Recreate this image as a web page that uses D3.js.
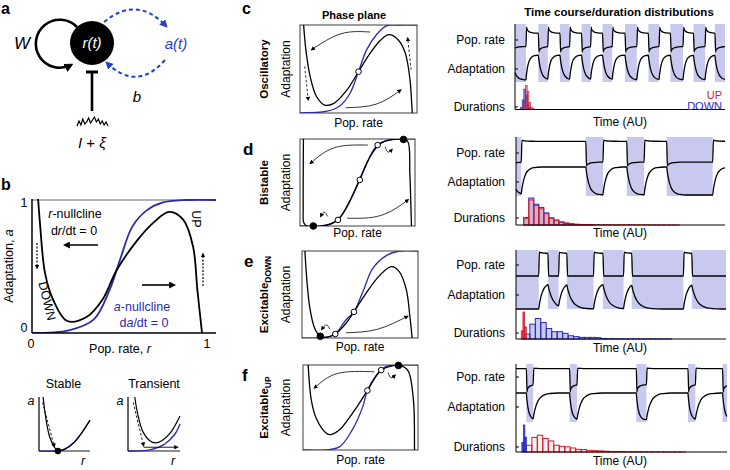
<!DOCTYPE html>
<html><head><meta charset="utf-8">
<script src="https://cdn.jsdelivr.net/npm/d3@7"></script>
<style>body{margin:0;background:#fff} text{font-family:"Liberation Sans",Arial,Helvetica,sans-serif}</style>
</head><body><svg id="chart" width="730" height="470"></svg>
<script>
// ---------------- DATA ----------------
// Panel a: noise trace under the input line (relative y offsets)
const noiseOffsets = [2,-3,1,-5,0,-2,-6,-1,-4,-7,-2,-5,0,-3,1,-2,2];

// Panel b: nullclines, r (pop. rate) and a (adaptation) in [0,1]
const bRNullcline = [[0.034,1.02],[0.045,0.83],[0.074,0.45],[0.12,0.25],[0.2,0.09],[0.31,0.12],[0.40,0.25],[0.48,0.47],[0.6,0.7],[0.69,0.83],[0.78,0.91],[0.86,0.85],[0.915,0.65],[0.94,0.32],[0.966,0.0],[0.97,-0.05]];
const bANullcline = [[0,0],[0.21,0.02],[0.35,0.1],[0.44,0.32],[0.5,0.55],[0.57,0.8],[0.65,0.92],[0.74,0.98],[0.88,1.0],[1.05,1.0]];
const stableRNull = [[0.08,1],[0.14,0.57],[0.21,0.26],[0.31,0.06],[0.37,0],[0.5,0.03],[0.7,0.17],[1,0.57]];
const stableANull = [[0,0],[0.31,0],[0.5,0.035],[0.7,0.17],[1,0.57]];
const transientRNull = [[0.13,1],[0.19,0.67],[0.29,0.35],[0.42,0.19],[0.52,0.15],[0.65,0.19],[0.81,0.33],[1,0.65]];
const transientANull = [[0,0],[0.42,0.02],[0.71,0.13],[0.9,0.31],[1,0.5]];

// Phase planes c-f
const cRNull = [[0.03,1.02],[0.05,0.72],[0.086,0.42],[0.14,0.19],[0.21,0.09],[0.29,0.11],[0.4,0.26],[0.5,0.47],[0.6,0.68],[0.69,0.83],[0.76,0.89],[0.84,0.83],[0.9,0.68],[0.94,0.38],[0.96,0.0],[0.965,-0.05]];
const cANull = [[0,0],[0.23,0.02],[0.34,0.08],[0.43,0.23],[0.5,0.47],[0.57,0.72],[0.66,0.9],[0.74,0.99],[0.85,1],[1,1]];
const dRNull = [[0.03,1.05],[0.028,0.6],[0.028,0.2],[0.032,0.04],[0.06,0.0],[0.2,0.0],[0.3,0.045],[0.36,0.12],[0.43,0.28],[0.51,0.51],[0.58,0.72],[0.64,0.86],[0.7,0.95],[0.78,0.99],[0.88,0.995],[0.935,0.975],[0.955,0.6],[0.965,0.2],[0.97,-0.05]];
const dANull = [[0,0],[0.15,0.0],[0.25,0.02],[0.33,0.07],[0.4,0.2],[0.52,0.53],[0.62,0.83],[0.675,0.93],[0.75,0.98],[0.85,1],[1,1]];
const eRNull = [[0.023,1.05],[0.04,0.7],[0.066,0.36],[0.11,0.11],[0.158,0.02],[0.22,0.01],[0.28,0.04],[0.38,0.17],[0.448,0.3],[0.55,0.51],[0.67,0.72],[0.77,0.82],[0.84,0.76],[0.9,0.55],[0.93,0.25],[0.95,0.0],[0.955,-0.05]];
const eANull = [[0,0],[0.15,0.0],[0.24,0.02],[0.287,0.046],[0.38,0.21],[0.448,0.3],[0.53,0.55],[0.61,0.8],[0.73,0.95],[0.84,1],[1,1]];
const fRNull = [[0.043,1.05],[0.072,0.59],[0.116,0.37],[0.2,0.2],[0.24,0.18],[0.32,0.24],[0.46,0.49],[0.56,0.7],[0.68,0.94],[0.83,0.995],[0.91,0.94],[0.96,0.59],[0.97,0.0],[0.972,-0.05]];
const fANull = [[0,0],[0.2,0],[0.32,0.04],[0.43,0.24],[0.52,0.51],[0.56,0.7],[0.64,0.88],[0.72,0.98],[0.84,1],[1,1]];
// fixed points: [r, a, stable?]
const cFixed = [[0.5,0.47,0]];
const dFixed = [[0.116,0.0,1],[0.33,0.07,0],[0.52,0.53,0],[0.675,0.93,0],[0.9,0.995,1]];
const eFixed = [[0.158,0.02,1],[0.287,0.046,0],[0.448,0.3,0]];
const fFixed = [[0.56,0.70,0],[0.68,0.94,0],[0.83,0.995,1]];

// Time courses: state transition times (time in AU, 0-100) and starting state
const cTransitions = [5.2,11.1,15.6,21.4,26,31.7,36,41.7,46.3,52.4,58,63.5,68.6,74,80,85,90.5,95.2];
const dTransitions = [2.5,33.4,41.6,53,61.3,72.1,94.1];
const eTransitions = [10.8,15.2,20.3,24.2,36.9,41.4,51.2,55.1,79.7,83.7];
const fTransitions = [4.9,8.1,25.4,28.9,57,61.8,81.5,85,97.9];
const startStates = {c:"DOWN", d:"DOWN", e:"DOWN", f:"UP"};

// Duration histograms (normalized counts)
const cUpCounts = [0.1,0.35,1.0,0.75,0.3,0.1,0.04];
const cDownCounts = [0.08,0.4,0.85,0.6,0.2,0.05];
const dUpCounts = [0.25,0.93,0.72,0.6,0.42,0.25,0.18,0.12,0.08,0.05,0.03,0.02,0.02,0.015,0.01,0.01,0.01,0.01,0.008,0.008,0.006,0.006,0.005,0.005,0.004,0.004,0.003,0.003,0.003,0.002,0.002];
const dDownCounts = [0.28,1.0,0.77,0.65,0.45,0.27,0.18,0.1,0.06,0.04,0.02,0.01,0.008,0.005];
const eUpCounts = [0.3,1.0,0.45];
const eDownCounts = [0.18,0.55,0.76,0.61,0.39,0.27,0.27,0.21,0.12,0.09,0.06,0.06,0.06,0.05,0.02,0.01,0.01,0.008,0.006,0.005,0.004,0.003,0.003,0.002,0.002,0.002,0.002];
const fDownCounts = [0.35,1.0,0.55];
const fUpCounts = [0.25,0.54,0.62,0.5,0.41,0.25,0.21,0.19,0.15,0.1,0.09,0.06,0.05,0.04,0.03,0.02,0.02,0.02,0.01,0.01,0.008,0.006,0.005,0.005,0.004,0.003,0.003,0.002,0.002];

// Relaxation shape of adaptation (time in units of tau, fraction of change)
const relaxT = [0,0.15,0.3,0.5,0.75,1,1.5,2,3,4,6];
const relaxV = [0,0.14,0.26,0.39,0.53,0.63,0.78,0.86,0.95,0.98,1.0];

// ---------------- DRAWING ----------------
const BLUE = "#2b2ba8", RED = "#d0202e", HBLUE = "#2a2ac4", SHADE = "#c9c9f0";
const svg = d3.select("#chart");
svg.append("rect").attr("width",730).attr("height",470).attr("fill","#fff");
const defs = svg.append("defs");
function marker(id, color, size){
  defs.append("marker").attr("id",id).attr("viewBox","0 0 10 10").attr("refX",7).attr("refY",5)
    .attr("markerWidth",size).attr("markerHeight",size).attr("markerUnits","userSpaceOnUse").attr("orient","auto")
    .append("path").attr("d","M0,0 L10,5 L0,10 z").attr("fill",color);
}
marker("ahS","#000",4.5); marker("ahM","#000",7); marker("ahL","#000",9); marker("ahB","#2340c8",8);

function txt(g,x,y,s,o={}){
  const t=g.append("text").attr("x",x).attr("y",y).text(s)
    .attr("font-size",o.size||12).attr("text-anchor",o.anchor||"middle").attr("fill",o.fill||"#000");
  if(o.bold) t.attr("font-weight","bold");
  if(o.italic) t.attr("font-style","italic");
  if(o.rot!==undefined) t.attr("transform",`rotate(${o.rot},${x},${y})`);
  return t;
}
const cr = d3.curveCatmullRom.alpha(0.5);

// ---- Panel a ----
const ga = svg.append("g");
txt(ga,1,14,"a",{size:16,bold:true,anchor:"start"});
ga.append("path").attr("d","M 77 27 A 24 24 0 1 0 71 65").attr("fill","none").attr("stroke","#000").attr("stroke-width",2.6).attr("marker-end","url(#ahL)");
ga.append("circle").attr("cx",92).attr("cy",43).attr("r",22).attr("fill","#000");
txt(ga,92,48,"r(t)",{size:15,italic:true,fill:"#fff"});
ga.append("path").attr("d","M 104 22 Q 137 -5 166 26").attr("fill","none").attr("stroke","#2340c8").attr("stroke-width",2).attr("stroke-dasharray","4,3").attr("marker-end","url(#ahB)");
ga.append("path").attr("d","M 165 60 Q 137 92 107 63").attr("fill","none").attr("stroke","#2340c8").attr("stroke-width",2).attr("stroke-dasharray","4,3").attr("marker-end","url(#ahB)");
txt(ga,176,49,"a(t)",{size:15,italic:true,fill:"#2340c8"});
txt(ga,22,49,"W",{size:17,italic:true});
txt(ga,137,102,"b",{size:15,italic:true});
ga.append("line").attr("x1",92).attr("x2",92).attr("y1",72).attr("y2",111).attr("stroke","#000").attr("stroke-width",2.6);
ga.append("line").attr("x1",86).attr("x2",98).attr("y1",72).attr("y2",72).attr("stroke","#000").attr("stroke-width",3);
const nx = d3.scaleLinear().domain([0,noiseOffsets.length-1]).range([77,108]);
ga.append("path").attr("d",d3.line().x((d,i)=>nx(i)).y(d=>124+d)(noiseOffsets)).attr("fill","none").attr("stroke","#000").attr("stroke-width",1.2);
const it = ga.append("text").attr("x",92).attr("y",148).attr("text-anchor","middle").attr("font-size",15);
it.append("tspan").attr("font-style","italic").text("I");
it.append("tspan").text(" + ");
it.append("tspan").attr("font-style","italic").text("ξ");

// ---- Panel b ----
const gb = svg.append("g");
txt(gb,1,190,"b",{size:16,bold:true,anchor:"start"});
const bx = d3.scaleLinear().domain([0,1]).range([32,208]);
const by = d3.scaleLinear().domain([0,1]).range([333,200]);
defs.append("clipPath").attr("id","clipb").append("rect").attr("x",32).attr("y",199).attr("width",184).attr("height",134);
gb.append("line").attr("x1",32).attr("x2",216).attr("y1",200).attr("y2",200).attr("stroke","#999").attr("stroke-width",1.5);
const lb = d3.line().x(d=>bx(d[0])).y(d=>by(d[1])).curve(cr);
gb.append("path").attr("d",lb(bANullcline)).attr("fill","none").attr("stroke",BLUE).attr("stroke-width",1.8).attr("clip-path","url(#clipb)");
gb.append("path").attr("d",lb(bRNullcline)).attr("fill","none").attr("stroke","#000").attr("stroke-width",1.8).attr("clip-path","url(#clipb)");
gb.append("line").attr("x1",32).attr("x2",32).attr("y1",199).attr("y2",333).attr("stroke","#000").attr("stroke-width",1.5);
gb.append("line").attr("x1",32).attr("x2",216).attr("y1",333).attr("y2",333).attr("stroke","#000").attr("stroke-width",1.5);
txt(gb,24,207,"1",{size:12.5});
txt(gb,24,332,"0",{size:12.5});
txt(gb,31,348,"0",{size:12.5});
txt(gb,207,348,"1",{size:12.5});
const xl = gb.append("text").attr("x",120).attr("y",353).attr("text-anchor","middle").attr("font-size",12.5);
xl.append("tspan").text("Pop. rate, "); xl.append("tspan").attr("font-style","italic").text("r");
const yl = gb.append("text").attr("transform","translate(13,266) rotate(-90)").attr("text-anchor","middle").attr("font-size",12.5);
yl.append("tspan").text("Adaptation, "); yl.append("tspan").attr("font-style","italic").text("a");
let t1 = gb.append("text").attr("x",75).attr("y",218).attr("text-anchor","middle").attr("font-size",12.5);
t1.append("tspan").attr("font-style","italic").text("r"); t1.append("tspan").text("-nullcline");
t1 = gb.append("text").attr("x",74).attr("y",235).attr("text-anchor","middle").attr("font-size",12.5);
t1.append("tspan").text("d"); t1.append("tspan").attr("font-style","italic").text("r"); t1.append("tspan").text("/dt = 0");
t1 = gb.append("text").attr("x",142).attr("y",311).attr("text-anchor","middle").attr("font-size",12.5).attr("fill",BLUE);
t1.append("tspan").attr("font-style","italic").text("a"); t1.append("tspan").text("-nullcline");
t1 = gb.append("text").attr("x",144).attr("y",327).attr("text-anchor","middle").attr("font-size",12.5).attr("fill",BLUE);
t1.append("tspan").text("d"); t1.append("tspan").attr("font-style","italic").text("a"); t1.append("tspan").text("/dt = 0");
gb.append("line").attr("x1",98).attr("x2",65).attr("y1",245).attr("y2",245).attr("stroke","#000").attr("stroke-width",1.6).attr("marker-end","url(#ahM)");
gb.append("line").attr("x1",142).attr("x2",174).attr("y1",285).attr("y2",285).attr("stroke","#000").attr("stroke-width",1.6).attr("marker-end","url(#ahM)");
gb.append("line").attr("x1",37).attr("x2",37).attr("y1",243).attr("y2",268).attr("stroke","#000").attr("stroke-width",1.2).attr("stroke-dasharray","2,1.5").attr("marker-end","url(#ahS)");
gb.append("line").attr("x1",203).attr("x2",203).attr("y1",286).attr("y2",254).attr("stroke","#000").attr("stroke-width",1.2).attr("stroke-dasharray","2,1.5").attr("marker-end","url(#ahS)");
txt(gb,192,219,"UP",{size:12.5,rot:90});
txt(gb,43,302,"DOWN",{size:12.5,rot:76});

// small Stable / Transient insets
function inset(x0,x1,yTop,yBot,rN,aN,title,extra){
  const g = svg.append("g");
  const sx = d3.scaleLinear().domain([0,1]).range([x0,x1]);
  const sy = d3.scaleLinear().domain([0,1]).range([yBot,yTop]);
  const l = d3.line().x(d=>sx(d[0])).y(d=>sy(d[1])).curve(cr);
  g.append("line").attr("x1",x0).attr("x2",x1).attr("y1",yBot).attr("y2",yBot).attr("stroke","#666").attr("stroke-width",1.3);
  g.append("path").attr("d",l(aN)).attr("fill","none").attr("stroke",BLUE).attr("stroke-width",1.4);
  g.append("path").attr("d",l(rN)).attr("fill","none").attr("stroke","#000").attr("stroke-width",1.2);
  g.append("line").attr("x1",x0).attr("x2",x0).attr("y1",yTop).attr("y2",yBot).attr("stroke","#000").attr("stroke-width",1.2);
  txt(g,(x0+x1)/2+ (title==="Stable"?-1:0),388,title,{size:12.5});
  txt(g,x0-8,405,"a",{size:12.5,italic:true});
  txt(g,x1-7,465,"r",{size:12.5,italic:true});
  extra(g,sx,sy);
}
inset(39,90,397,451,stableRNull,stableANull,"Stable",(g,sx,sy)=>{
  g.append("line").attr("x1",sx(0.07)).attr("y1",sy(0.9)).attr("x2",sx(0.3)).attr("y2",sy(0.08)).attr("stroke","#000").attr("stroke-width",0.9).attr("stroke-dasharray","2.5,2").attr("marker-end","url(#ahS)");
  g.append("circle").attr("cx",sx(0.37)).attr("cy",sy(0)).attr("r",3.2).attr("fill","#000");
});
inset(128,180,397,451,transientRNull,transientANull,"Transient",(g,sx,sy)=>{
  g.append("line").attr("x1",sx(0.1)).attr("y1",sy(0.9)).attr("x2",sx(0.3)).attr("y2",sy(0.1)).attr("stroke","#000").attr("stroke-width",0.9).attr("stroke-dasharray","2.5,2").attr("marker-end","url(#ahS)");
  g.append("line").attr("x1",sx(0.3)).attr("y1",sy(0.07)).attr("x2",sx(0.95)).attr("y2",sy(0.07)).attr("stroke","#000").attr("stroke-width",0.9).attr("marker-end","url(#ahS)");
});

// ---- Phase planes ----
txt(svg,242,14,"c",{size:16,bold:true,anchor:"start"});
txt(svg,354,19,"Phase plane",{size:11,bold:true});
txt(svg,619,16,"Time course/duration distributions",{size:11.5,bold:true});
function phasePlane(id,box,rN,aN,fixed,arrows,rowLabel,sub,popY){
  const [x0,y0,x1,y1]=box;
  const g = svg.append("g");
  const sx = d3.scaleLinear().domain([0,1]).range([x0,x1]);
  const sy = d3.scaleLinear().domain([0,1]).range([y1,y0]);
  defs.append("clipPath").attr("id","clip"+id).append("rect").attr("x",x0).attr("y",y0).attr("width",x1-x0).attr("height",y1-y0);
  const l = d3.line().x(d=>sx(d[0])).y(d=>sy(d[1])).curve(cr);
  g.append("rect").attr("x",x0).attr("y",y0).attr("width",x1-x0).attr("height",y1-y0).attr("fill","none").attr("stroke","#6a6a6a").attr("stroke-width",1.3);
  g.append("path").attr("d",l(aN)).attr("fill","none").attr("stroke",BLUE).attr("stroke-width",1.3).attr("clip-path",`url(#clip${id})`);
  g.append("path").attr("d",l(rN)).attr("fill","none").attr("stroke","#000").attr("stroke-width",1.3).attr("clip-path",`url(#clip${id})`);
  arrows.forEach(a=>{
    g.append("path").attr("d",d3.line().x(d=>sx(d[0])).y(d=>sy(d[1])).curve(d3.curveNatural)(a.p))
      .attr("fill","none").attr("stroke","#000").attr("stroke-width",0.8)
      .attr("stroke-dasharray",a.dash?"2.5,2":null).attr("marker-end","url(#ahS)");
  });
  fixed.forEach(f=>{
    g.append("circle").attr("cx",sx(f[0])).attr("cy",sy(f[1])).attr("r",f[2]?3.3:2.8)
      .attr("fill",f[2]?"#000":"#fff").attr("stroke","#000").attr("stroke-width",1);
  });
  const cy=(y0+y1)/2;
  const rl = g.append("text").attr("transform",`translate(268,${cy}) rotate(-90)`).attr("text-anchor","middle").attr("font-size",11.5).attr("font-weight","bold");
  rl.append("tspan").text(rowLabel);
  if(sub) rl.append("tspan").attr("font-size",8.5).attr("dy",3).text(sub);
  g.append("text").attr("transform",`translate(290,${cy}) rotate(-90)`).attr("text-anchor","middle").attr("font-size",12).text("Adaptation");
  txt(g,(x0+x1)/2,popY,"Pop. rate",{size:12});
}
phasePlane("c",[300,25,417,113],cRNull,cANull,cFixed,[
  {p:[[0.6,0.92],[0.35,0.9],[0.1,0.72]]},
  {p:[[0.39,0.06],[0.65,0.1],[0.86,0.26]]},
  {p:[[0.04,0.53],[0.07,0.15]],dash:true},
  {p:[[0.95,0.49],[0.92,0.85]],dash:true}
],"Oscillatory",null,127);
txt(svg,243,155,"d",{size:17,bold:true,anchor:"start"});
phasePlane("d",[300,139,415,226],dRNull,dANull,dFixed,[
  {p:[[0.59,0.93],[0.3,0.9],[0.09,0.72]]},
  {p:[[0.41,0.09],[0.7,0.12],[0.94,0.3]]},
  {p:[[0.24,0.11],[0.21,0.16],[0.18,0.11]]},
  {p:[[0.74,0.91],[0.765,0.85],[0.8,0.88]]}
],"Bistable",null,237);
txt(svg,244,267,"e",{size:17,bold:true,anchor:"start"});
phasePlane("e",[302,251,418,338],eRNull,eANull,eFixed,[
  {p:[[0.24,0.1],[0.21,0.15],[0.17,0.1]]},
  {p:[[0.38,0.06],[0.65,0.1],[0.91,0.25]]}
],"Excitable","DOWN",351);
txt(svg,242,381,"f",{size:17,bold:true,anchor:"start"});
phasePlane("f",[303,365,418,450],fRNull,fANull,fFixed,[
  {p:[[0.62,0.92],[0.3,0.9],[0.1,0.73]]},
  {p:[[0.74,0.91],[0.765,0.85],[0.8,0.88]]}
],"Excitable","UP",464);

// ---- Time courses ----
const relax = d3.scaleLinear().domain(relaxT).range(relaxV).clamp(true);
function buildSegments(trans,start,tauUp,tauDown,a0){
  const b=[0,...trans,100]; let st=start, a=a0; const segs=[];
  for(let i=0;i<b.length-1;i++){
    const s=b[i], e=b[i+1], tau= st==="UP"?tauUp:tauDown, tgt= st==="UP"?1:0, sa=a;
    const pts=[[s,sa]];
    relaxT.forEach(t=>{ const tt=s+t*tau; if(t>0 && tt<e-0.05) pts.push([tt, sa+(tgt-sa)*relax(t)]); });
    a = sa+(tgt-sa)*relax((e-s)/tau); pts.push([e,a]);
    segs.push({s,e,st,pts}); st = st==="UP"?"DOWN":"UP";
  }
  return segs;
}
function timeCourse(cfg){
  const g = svg.append("g");
  const x = d3.scaleLinear().domain([0,100]).range([cfg.x0,cfg.x1]);
  const yr = d3.scaleLinear().domain([0,1]).range([cfg.rateLo,cfg.rateHi]);
  const ya = d3.scaleLinear().domain([0,1]).range([cfg.adBot,cfg.adTop]);
  const segs = buildSegments(cfg.trans,cfg.start,cfg.tauUp,cfg.tauDown,cfg.a0);
  segs.filter(s=>s.st==="DOWN").forEach(s=>{
    g.append("rect").attr("x",x(s.s)).attr("width",x(s.e)-x(s.s)).attr("y",cfg.shadeTop).attr("height",cfg.shadeBot-cfg.shadeTop).attr("fill",SHADE);
  });
  const aPts=[]; segs.forEach((s,i)=>s.pts.forEach((p,j)=>{ if(i===0||j>0) aPts.push(p); }));
  const rate=(st,a)=> st==="UP" ? 1-cfg.kUp*a : cfg.kDown*(1-a);
  const rPts=[]; const dl=0.35;
  segs.forEach((s,i)=>{
    s.pts.forEach((p,j)=>{
      if(j===0){ rPts.push([i===0?p[0]:p[0]+dl, rate(s.st,p[1])]); }
      else if(p[0]>s.s+dl) rPts.push([p[0],rate(s.st,p[1])]);
    });
  });
  const lr = d3.line().x(d=>x(d[0])).y(d=>yr(d[1])).curve(d3.curveMonotoneX);
  const la = d3.line().x(d=>x(d[0])).y(d=>ya(d[1])).curve(d3.curveMonotoneX);
  g.append("path").attr("d",lr(rPts)).attr("fill","none").attr("stroke","#000").attr("stroke-width",1.3);
  g.append("path").attr("d",la(aPts)).attr("fill","none").attr("stroke","#000").attr("stroke-width",1.3);
  const yh = d3.scaleLinear().domain([0,1]).range([cfg.hBase,cfg.hBase-cfg.hH]);
  cfg.hists.forEach(h=>{
    h.counts.forEach((c,i)=>{
      const xs=x(h.start+i*h.w), xe=x(h.start+(i+1)*h.w);
      g.append("rect").attr("x",xs).attr("width",xe-xs).attr("y",yh(c)).attr("height",yh(0)-yh(c))
        .attr("fill",h.color).attr("fill-opacity",h.op).attr("stroke",h.color).attr("stroke-width",h.sw);
    });
  });
  g.append("line").attr("x1",cfg.x0).attr("x2",cfg.x0).attr("y1",cfg.shadeTop).attr("y2",cfg.hBase).attr("stroke","#000").attr("stroke-width",1);
  g.append("line").attr("x1",cfg.x0).attr("x2",cfg.x1).attr("y1",cfg.hBase).attr("y2",cfg.hBase).attr("stroke","#000").attr("stroke-width",1);
  ["Pop. rate","Adaptation","Durations"].forEach((lab,i)=>{
    const yy=cfg.labY[i];
    g.append("line").attr("x1",cfg.x0).attr("x2",cfg.x0+3).attr("y1",yy).attr("y2",yy).attr("stroke","#000");
    txt(g,505,yy+4,lab,{size:12,anchor:"end"});
  });
  txt(g,620,cfg.timeY,"Time (AU)",{size:12});
}
timeCourse({x0:515,x1:725,shadeTop:24,shadeBot:82,rateHi:27,rateLo:52,adTop:55,adBot:80,labY:[40,69,107],hBase:109.5,hH:24,timeY:126,
  trans:cTransitions,start:startStates.c,tauUp:1.1,tauDown:1.3,a0:0.3,kUp:0.25,kDown:0.22,
  hists:[{counts:cDownCounts,start:2.6,w:0.8,color:HBLUE,op:0.6,sw:0.6},{counts:cUpCounts,start:3.4,w:0.8,color:RED,op:0.5,sw:0.6}]});
timeCourse({x0:516,x1:725,shadeTop:137,shadeBot:196,rateHi:140,rateLo:166,adTop:167,adBot:195,labY:[153,182,218],hBase:225,hH:27,timeY:237,
  trans:dTransitions,start:startStates.d,tauUp:1.6,tauDown:1.6,a0:0.2,kUp:0.05,kDown:0.15,
  hists:[{counts:dDownCounts,start:3.7,w:2.4,color:HBLUE,op:0.2,sw:1},{counts:dUpCounts,start:3.7,w:2.4,color:RED,op:0.2,sw:1}]});
timeCourse({x0:516,x1:726,shadeTop:250,shadeBot:309,rateHi:252,rateLo:276,adTop:282,adBot:309,labY:[265,295,333],hBase:339,hH:27,timeY:352,
  trans:eTransitions,start:startStates.e,tauUp:1.8,tauDown:2.4,a0:0.0,kUp:0.06,kDown:0.0,
  hists:[{counts:eDownCounts,start:4.0,w:2.6,color:HBLUE,op:0.25,sw:1},{counts:eUpCounts,start:2.5,w:0.8,color:RED,op:0.8,sw:0.8}]});
timeCourse({x0:516,x1:727,shadeTop:364,shadeBot:422,rateHi:368,rateLo:392,adTop:393,adBot:420,labY:[377,407,447],hBase:452,hH:27,timeY:465,
  trans:fTransitions,start:startStates.f,tauUp:2.0,tauDown:1.0,a0:1.0,kUp:0.03,kDown:0.3,
  hists:[{counts:fUpCounts,start:4.9,w:2.6,color:RED,op:0.08,sw:1},{counts:fDownCounts,start:2.8,w:0.7,color:HBLUE,op:0.85,sw:0.8}]});
txt(svg,722,99,"UP",{size:11,anchor:"end",fill:RED});
txt(svg,722,110,"DOWN",{size:11,anchor:"end",fill:HBLUE});
</script></body></html>
